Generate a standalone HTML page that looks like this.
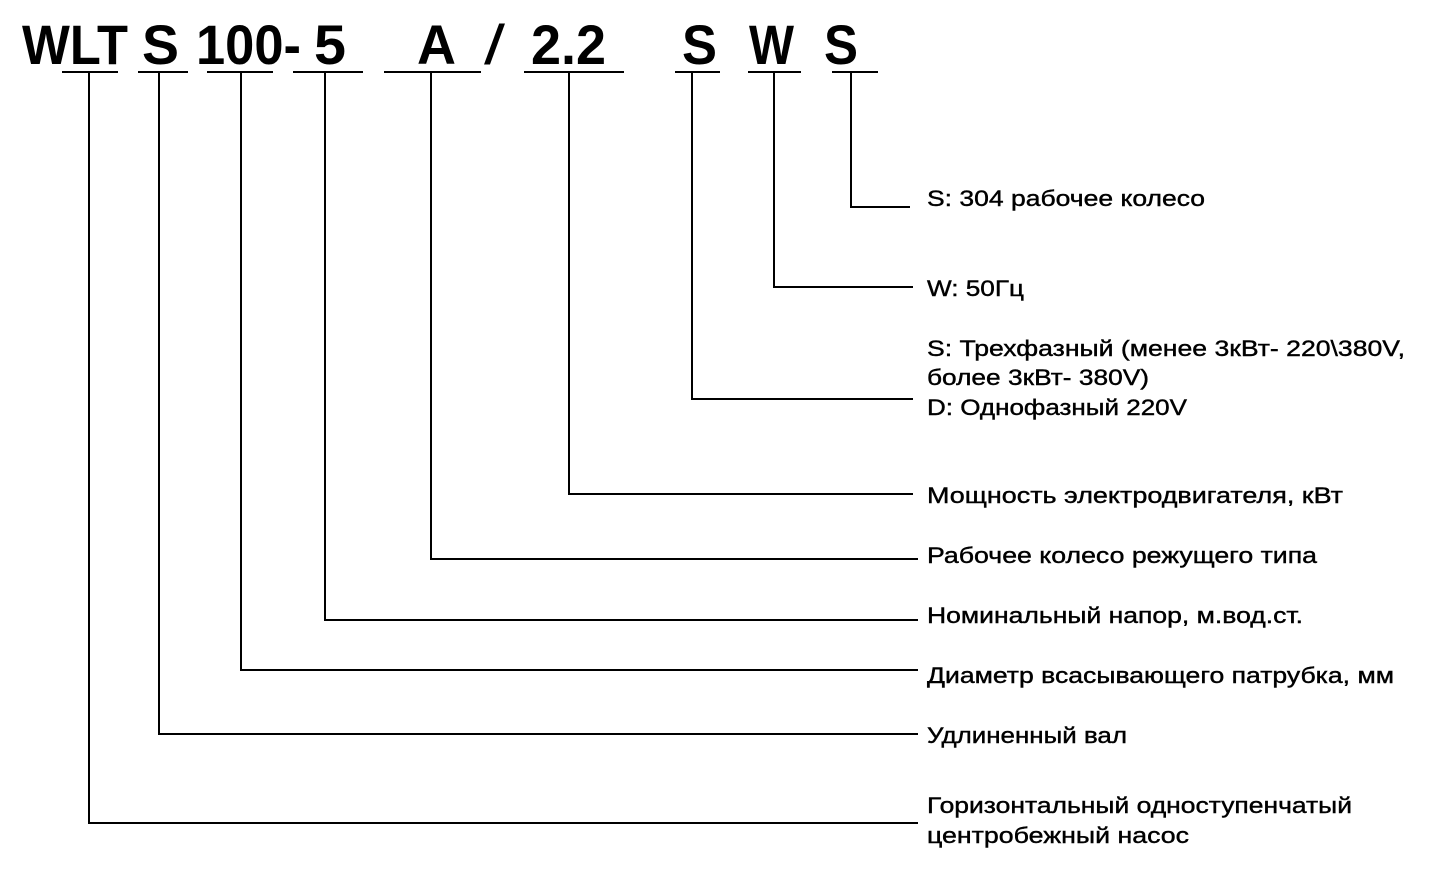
<!DOCTYPE html>
<html><head><meta charset="utf-8"><style>
html,body{margin:0;padding:0;background:#fff;}
svg{display:block}
.h{font-family:"Liberation Sans Narrow","Liberation Sans",sans-serif;font-weight:bold;font-size:56px;fill:#000}
.t{font-family:"Liberation Sans",sans-serif;font-size:22px;fill:#000;stroke:#000;stroke-width:0.4}
</style></head><body>
<svg width="1443" height="882" viewBox="0 0 1443 882" xmlns="http://www.w3.org/2000/svg">
<g class="h">
<text x="22" y="64" textLength="106" lengthAdjust="spacingAndGlyphs">WLT</text>
<text x="142" y="64" textLength="37" lengthAdjust="spacingAndGlyphs">S</text>
<text x="196" y="64" textLength="105" lengthAdjust="spacingAndGlyphs">100-</text>
<text x="314" y="64" textLength="32" lengthAdjust="spacingAndGlyphs">5</text>
<text x="417" y="64" textLength="39" lengthAdjust="spacingAndGlyphs">A</text>
<text x="484" y="64" textLength="21" lengthAdjust="spacingAndGlyphs" style="font-weight:normal">/</text>
<text x="531" y="64" textLength="75" lengthAdjust="spacingAndGlyphs">2.2</text>
<text x="682" y="64" textLength="35" lengthAdjust="spacingAndGlyphs">S</text>
<text x="749" y="64" textLength="45" lengthAdjust="spacingAndGlyphs">W</text>
<text x="824" y="64" textLength="34" lengthAdjust="spacingAndGlyphs">S</text>
</g>
<g stroke="#000" stroke-width="2" fill="none">
<path d="M62 72H118M138 72H188M207 72H273M293 72H363M384 72H481M524 72H624M675 72H720M748 72H801M832 72H878"/>
<path d="M851 72V207H910"/>
<path d="M774 72V287H913"/>
<path d="M692 72V399H913"/>
<path d="M569 72V494H913"/>
<path d="M431 72V559H918"/>
<path d="M325 72V620H918"/>
<path d="M241 72V670H918"/>
<path d="M159 72V734H918"/>
<path d="M89 72V823H918"/>
</g>
<g class="t">
<text x="927" y="206" textLength="278" lengthAdjust="spacingAndGlyphs">S: 304 рабочее колесо</text>
<text x="927" y="296" textLength="97" lengthAdjust="spacingAndGlyphs">W: 50Гц</text>
<text x="927" y="356" textLength="478" lengthAdjust="spacingAndGlyphs">S: Трехфазный (менее 3кВт- 220\380V,</text>
<text x="927" y="385" textLength="222" lengthAdjust="spacingAndGlyphs">более 3кВт- 380V)</text>
<text x="927" y="415" textLength="260" lengthAdjust="spacingAndGlyphs">D: Однофазный 220V</text>
<text x="927" y="503" textLength="416" lengthAdjust="spacingAndGlyphs">Мощность электродвигателя, кВт</text>
<text x="927" y="563" textLength="390" lengthAdjust="spacingAndGlyphs">Рабочее колесо режущего типа</text>
<text x="927" y="623" textLength="376" lengthAdjust="spacingAndGlyphs">Номинальный напор, м.вод.ст.</text>
<text x="927" y="683" textLength="467" lengthAdjust="spacingAndGlyphs">Диаметр всасывающего патрубка, мм</text>
<text x="927" y="743" textLength="200" lengthAdjust="spacingAndGlyphs">Удлиненный вал</text>
<text x="927" y="813" textLength="425" lengthAdjust="spacingAndGlyphs">Горизонтальный одноступенчатый</text>
<text x="927" y="843" textLength="262" lengthAdjust="spacingAndGlyphs">центробежный насос</text>
</g>
</svg>
</body></html>
